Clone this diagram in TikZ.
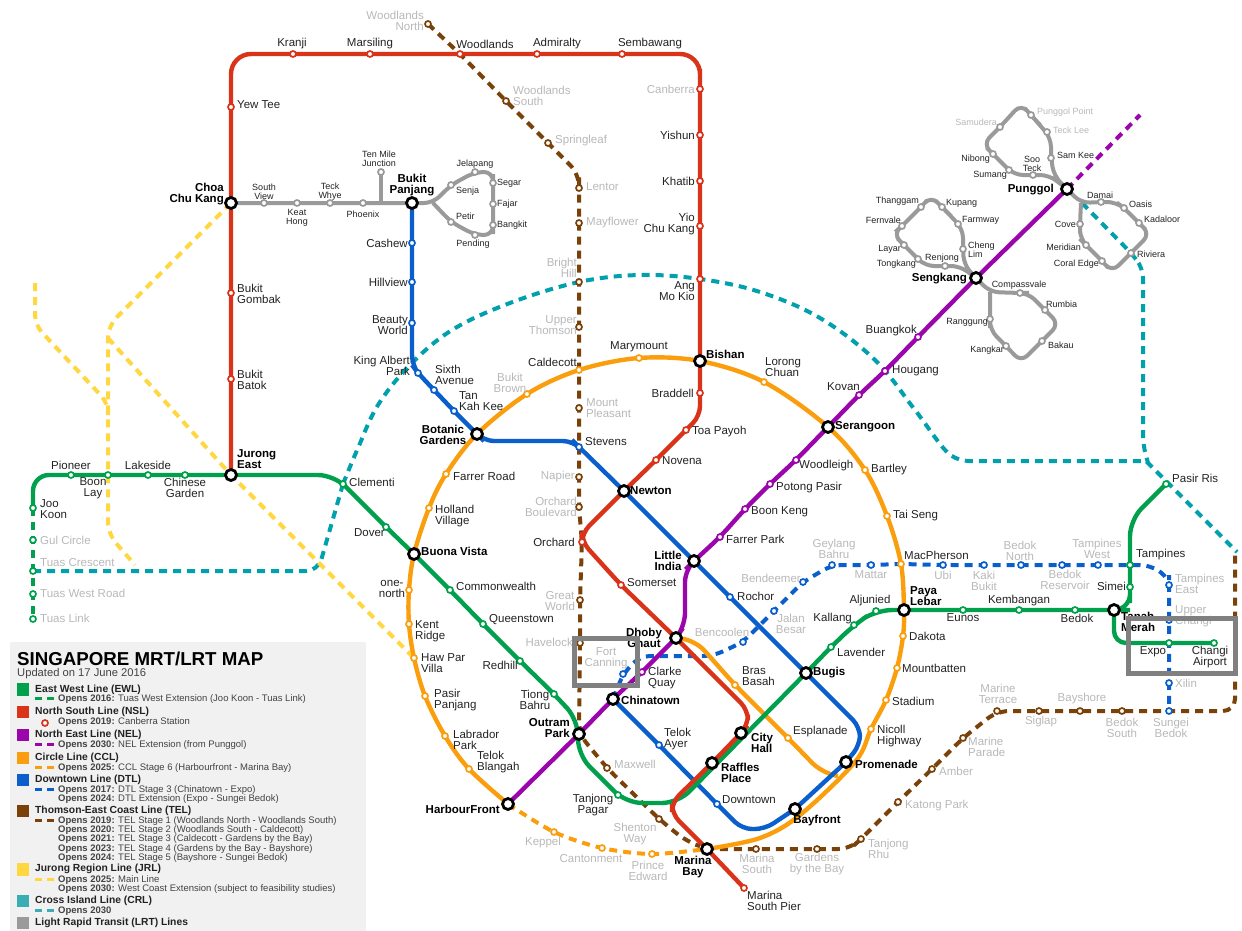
\documentclass[tikz,border=0pt]{standalone}
\usepackage{fontspec}
\setmainfont{Liberation Sans}
\definecolor{ewl}{HTML}{00A04C}
\definecolor{nsl}{HTML}{D9331A}
\definecolor{nel}{HTML}{9B05AC}
\definecolor{ccl}{HTML}{FA9E0D}
\definecolor{dtl}{HTML}{0A5FCC}
\definecolor{tel}{HTML}{7A4208}
\definecolor{jrl}{HTML}{FFD740}
\definecolor{crl}{HTML}{00A0AC}
\definecolor{crlk}{HTML}{3AADB5}
\definecolor{lrt}{HTML}{9A9A9A}
\definecolor{txt}{HTML}{222222}
\definecolor{fadet}{HTML}{B8B8B8}
\definecolor{panel}{HTML}{F1F1F1}
\definecolor{framec}{HTML}{808080}
\pgfdeclarelayer{lines}
\pgfsetlayers{lines,main}
\tikzset{
  st/.style={circle,draw=#1,fill=white,line width=1.7pt,minimum size=6pt,inner sep=0pt},
  ic/.style={circle,draw=black,fill=white,line width=2.8pt,minimum size=11pt,inner sep=0pt},
  lab/.style={inner sep=0pt,text=txt,font=\fontsize{11.5}{11.2}\selectfont},
  lw/.style={anchor=west,align=left},
  le/.style={anchor=east,align=right},
  lc/.style={anchor=center,align=center},
  gy/.style={text=fadet},
  bd/.style={text=black,font=\fontsize{11.5}{11.2}\selectfont\bfseries},
  sm/.style={text=txt,font=\fontsize{9}{9}\selectfont},
  ln/.style={draw=#1,line width=4.4pt},
  fut/.style={draw=#1,line width=4pt,dash pattern=on 8pt off 6pt},
  lrtl/.style={draw=lrt,line width=4pt,rounded corners=9pt},
  frameb/.style={rectangle,draw=framec,line width=5pt,inner sep=0pt},
  lgk/.style={rectangle,fill=#1,inner sep=0pt,minimum width=12pt,minimum height=12.5pt},
  lgd/.style={rectangle,fill=#1,inner sep=0pt,minimum width=7pt,minimum height=3pt},
  lgh/.style={inner sep=0pt,anchor=west,text=txt,font=\fontsize{10.3}{11}\selectfont\bfseries},
  lgs/.style={inner sep=0pt,anchor=west,text=txt!85,font=\fontsize{9.5}{10}\selectfont},
}
\newcommand\stn[6]{\node[st=#2] (#1) at (#3) {};\node[lab,#4] (#1T) at (#5) {#6};}
\newcommand\ixn[5]{\node[ic] (#1) at (#2) {};\node[lab,bd,#3] (#1T) at (#4) {#5};}
\newcounter{lgc}
\newcommand\lgo[3]{\stepcounter{lgc}\node[#1] (lg\arabic{lgc}) at (#2) {#3};}
\newcommand\lgdash[2]{\lgo{lgd=#2}{38.5,#1}{}\lgo{lgd=#2}{50.5,#1}{}}
\newcommand\op[1]{\textbf{Opens #1:} }
\begin{document}
\begin{tikzpicture}[x=1pt,y=-1pt]
\useasboundingbox (0,0) rectangle (1242,931);
% ---------- way points
\coordinate (c1) at (231,54);\coordinate (c2) at (700,54);\coordinate (c3) at (700,416);
\coordinate (c4) at (582,533);\coordinate (c5) at (748,710);\coordinate (c6) at (748,725);
\coordinate (c7) at (672,802);\coordinate (c8) at (672,814);
\coordinate (g1) at (33,475);\coordinate (g2) at (334,475);\coordinate (g3) at (578,720);
\coordinate (g4) at (578,755);\coordinate (g5) at (626,803);\coordinate (g6) at (678,803);
\coordinate (g7) at (876,610);\coordinate (g8) at (1130,610);\coordinate (g9) at (1130,520);
\coordinate (g10) at (1114,643);
\coordinate (p1) at (685,570);\coordinate (p2) at (685,625);\coordinate (pend) at (1140,115);
\coordinate (o1) at (855,762);\coordinate (o2) at (800,815);\coordinate (o3) at (760,838);
\coordinate (o4) at (695,640);\coordinate (o5) at (822,773);\coordinate (o6) at (838,776);
\coordinate (b1) at (412,365);\coordinate (b2) at (484,441);\coordinate (b3) at (573,441);
\coordinate (b4) at (860,727);\coordinate (b5) at (860,745);\coordinate (b6) at (742,829);\coordinate (b7) at (765,829);
\coordinate (d1) at (640,656);\coordinate (d2) at (713,656);\coordinate (d3) at (1150,565);\coordinate (d4) at (1169,578);
\coordinate (t1) at (579,174);\coordinate (t2) at (686,841);\coordinate (t3) at (850,849);\coordinate (t4) at (1235,711);\coordinate (t5) at (1235,555);
\coordinate (j1) at (108,326);\coordinate (j2) at (108,534);\coordinate (j3) at (135,565);
\coordinate (j4) at (35,283);\coordinate (j5) at (35,325);\coordinate (j6) at (108,403);\coordinate (j7) at (108,415);\coordinate (j8) at (108,338);
\coordinate (x1) at (318,571);\coordinate (x2) at (358,448);\coordinate (x3) at (378,405);\coordinate (x4) at (410,365);
\coordinate (x5) at (452,330);\coordinate (x6) at (510,303);\coordinate (x7) at (640,275);\coordinate (x8) at (760,292);
\coordinate (x9) at (820,318);\coordinate (x10) at (875,360);\coordinate (x11) at (915,410);\coordinate (x12) at (948,453);
\coordinate (x13) at (970,461);\coordinate (x14) at (1146,461);\coordinate (x15) at (1237,552);
\coordinate (y1) at (1082,203);\coordinate (y2) at (1143,268);\coordinate (y3) at (1143,445);\coordinate (y4) at (1148,463);
\coordinate (l1) at (433,203);\coordinate (l2) at (493,172);\coordinate (l3) at (493,235);\coordinate (l4) at (381,203);
\coordinate (m1) at (1054,176);\coordinate (m2) at (1051,138);\coordinate (m3) at (1021,104);\coordinate (m4) at (983,144);\coordinate (m5) at (1014,175);\coordinate (m6) at (1049,175);
\coordinate (n1) at (1081,203);\coordinate (n2) at (1116,202);\coordinate (n3) at (1150,234);\coordinate (n4) at (1112,272);\coordinate (n5) at (1080,239);
\coordinate (q1) at (964,265);\coordinate (q2) at (963,229);\coordinate (q3) at (931,196);\coordinate (q4) at (893,234);\coordinate (q5) at (925,266);\coordinate (q6) at (960,266);
\coordinate (r1) at (990,292);\coordinate (r2) at (1028,293);\coordinate (r3) at (1059,324);\coordinate (r4) at (1021,362);\coordinate (r5) at (990,330);
% ---------- EWL stations
\stn{jookoon}{ewl}{33,508}{lw}{40,509}{Joo\\Koon}
\stn{gul}{ewl}{33,540}{lw,gy}{40,540}{Gul Circle}
\stn{tuascr}{ewl}{33,571}{lw,gy}{40,563}{Tuas Crescent}
\stn{tuaswr}{ewl}{33,594}{lw,gy}{40,593}{Tuas West Road}
\stn{tuasl}{ewl}{33,619}{lw,gy}{40,618}{Tuas Link}
\stn{pioneer}{ewl}{71,475}{lc}{71,465}{Pioneer}
\stn{boonlay}{ewl}{108,475}{lc}{93,488}{Boon\\Lay}
\stn{lakeside}{ewl}{148,475}{lc}{148,465}{Lakeside}
\stn{chinese}{ewl}{185,475}{lc}{185,488}{Chinese\\Garden}
\stn{clementi}{ewl}{343,484}{lw}{349,482}{Clementi}
\stn{dover}{ewl}{386,527}{le}{385,533}{Dover}
\stn{common}{ewl}{450,590}{lw}{456,586}{Commonwealth}
\stn{queens}{ewl}{483,624}{lw}{489,620}{Queenstown}
\stn{redhill}{ewl}{520,661}{le}{518,665}{Redhill}
\stn{tiong}{ewl}{554,694}{lc}{535,700}{Tiong\\Bahru}
\stn{tanjong}{ewl}{618,795}{lc}{593,805}{Tanjong\\Pagar}
\stn{lavender}{ewl}{831,647}{lw}{837,652}{Lavender}
\stn{kallang}{ewl}{854,625}{le}{852,619}{Kallang}
\stn{aljunied}{ewl}{876,611}{lc}{870,601}{Aljunied}
\stn{eunos}{ewl}{963,610}{lc}{963,618}{Eunos}
\stn{kembangan}{ewl}{1019,610}{lc}{1019,601}{Kembangan}
\stn{bedok}{ewl}{1075,610}{lc}{1077,618}{Bedok}
\stn{simei}{ewl}{1130,587}{le}{1126,586}{Simei}
\stn{tampines}{ewl}{1130,565}{lw}{1136,555}{Tampines}
\stn{pasir}{ewl}{1166,484}{lw}{1172,478}{Pasir Ris}
\stn{expo}{ewl}{1169,643}{lc}{1153,652}{Expo}
\stn{changi}{ewl}{1214,643}{lc}{1210,657}{Changi\\Airport}
% ---------- NSL stations
\stn{yewtee}{nsl}{231,107}{lw}{237,105}{Yew Tee}
\stn{gombak}{nsl}{231,293}{lw}{237,294}{Bukit\\Gombak}
\stn{batok}{nsl}{231,379}{lw}{237,380}{Bukit\\Batok}
\stn{kranji}{nsl}{293,54}{lc}{292,44}{Kranji}
\stn{marsiling}{nsl}{370,54}{lc}{370,44}{Marsiling}
\stn{woodlands}{nsl}{460,54}{lc}{485,44}{Woodlands}
\stn{admiralty}{nsl}{537,54}{lc}{557,44}{Admiralty}
\stn{sembawang}{nsl}{622,54}{lc}{650,44}{Sembawang}
\stn{canberra}{nsl}{700,89}{le,gy}{695,89}{Canberra}
\stn{yishun}{nsl}{700,135}{le}{695,135}{Yishun}
\stn{khatib}{nsl}{700,181}{le}{695,181}{Khatib}
\stn{yio}{nsl}{700,226}{le}{695,224}{Yio\\Chu Kang}
\stn{ang}{nsl}{700,279}{le}{695,291}{Ang\\Mo Kio}
\stn{braddell}{nsl}{700,393}{le}{694,393}{Braddell}
\stn{toa}{nsl}{686,430}{lw}{692,432}{Toa Payoh}
\stn{novena}{nsl}{656,460}{lw}{662,461}{Novena}
\stn{orchard}{nsl}{582,542}{le}{575,542}{Orchard}
\stn{somerset}{nsl}{621,585}{lw}{627,583}{Somerset}
\stn{pier}{nsl}{744,888}{lw}{747,901}{Marina\\South Pier}
% ---------- NEL stations
\stn{clarke}{nel}{642,672}{lw}{648,678}{Clarke\\Quay}
\stn{farrerp}{nel}{720,537}{lw}{726,539}{Farrer Park}
\stn{boonkeng}{nel}{745,509}{lw}{751,512}{Boon Keng}
\stn{potong}{nel}{770,484}{lw}{776,488}{Potong Pasir}
\stn{woodleigh}{nel}{796,460}{lw}{799,466}{Woodleigh}
\stn{kovan}{nel}{859,395}{le}{860,387}{Kovan}
\stn{hougang}{nel}{885,371}{lw}{892,371}{Hougang}
\stn{buangkok}{nel}{918,337}{le}{917,331}{Buangkok}
% ---------- CCL stations
\stn{caldecott}{ccl}{579,370}{le}{577,362}{Caldecott}
\stn{bbrown}{ccl}{527,394}{lc,gy}{510,383}{Bukit\\Brown}
\stn{farrerr}{ccl}{446,474}{lw}{453,476}{Farrer Road}
\stn{holland}{ccl}{429,508}{lw}{435,516}{Holland\\Village}
\stn{onenorth}{ccl}{409,590}{lc}{392,589}{one-\\north}
\stn{kent}{ccl}{409,624}{lw}{415,631}{Kent\\Ridge}
\stn{hawpar}{ccl}{414,658}{lw}{421,663}{Haw Par\\Villa}
\stn{pasirp}{ccl}{425,696}{lw}{434,700}{Pasir\\Panjang}
\stn{labrador}{ccl}{445,736}{lw}{453,740}{Labrador\\Park}
\stn{blangah}{ccl}{469,769}{lw}{477,762}{Telok\\Blangah}
\stn{keppel}{ccl}{554,832}{lc,gy}{543,843}{Keppel}
\stn{canton}{ccl}{602,848}{lc,gy}{591,859}{Cantonment}
\stn{prince}{ccl}{652,854}{lc,gy}{648,871}{Prince\\Edward}
\stn{marymount}{ccl}{639,358}{lc}{639,347}{Marymount}
\stn{lorong}{ccl}{764,382}{lw}{765,367}{Lorong\\Chuan}
\stn{bartley}{ccl}{865,470}{lw}{871,470}{Bartley}
\stn{taiseng}{ccl}{887,516}{lw}{893,516}{Tai Seng}
\stn{macph}{ccl}{901,564}{lw}{904,555}{MacPherson}
\stn{dakota}{ccl}{903,636}{lw}{909,636}{Dakota}
\stn{mountb}{ccl}{897,668}{lw}{902,668}{Mountbatten}
\stn{stadium}{ccl}{886,700}{lw}{892,701}{Stadium}
\stn{nicoll}{ccl}{871,729}{lw}{877,736}{Nicoll\\Highway}
\stn{esplanade}{ccl}{788,738}{lw}{793,732}{Esplanade}
\stn{bras}{ccl}{735,685}{lw}{742,676}{Bras\\Basah}
% ---------- DTL stations
\stn{cashew}{dtl}{412,243}{le}{408,243}{Cashew}
\stn{hillview}{dtl}{412,282}{le}{408,282}{Hillview}
\stn{beauty}{dtl}{412,323}{le}{408,325}{Beauty\\World}
\stn{albert}{dtl}{418,373}{le}{410,366}{King Albert\\Park}
\stn{sixth}{dtl}{434,390}{lw}{435,375}{Sixth\\Avenue}
\stn{tankah}{dtl}{454,411}{lw}{459,401}{Tan\\Kah Kee}
\stn{stevens}{dtl}{579,447}{lw}{585,442}{Stevens}
\stn{rochor}{dtl}{730,597}{lw}{737,596}{Rochor}
\stn{telokayer}{dtl}{659,745}{lw}{664,739}{Telok\\Ayer}
\stn{downtown}{dtl}{717,804}{lw}{722,800}{Downtown}
\stn{fortc}{dtl}{623,674}{lc,gy}{606,658}{Fort\\Canning}
\stn{bencoolen}{dtl}{743,642}{lc,gy}{722,632}{Bencoolen}
\stn{jalan}{dtl}{774,611}{lc,gy}{791,624}{Jalan\\Besar}
\stn{bendeemer}{dtl}{803,582}{le,gy}{801,578}{Bendeemer}
\stn{geylang}{dtl}{832,565}{lc,gy}{834,549}{Geylang\\Bahru}
\stn{mattar}{dtl}{871,565}{lc,gy}{871,575}{Mattar}
\stn{ubi}{dtl}{943,565}{lc,gy}{943,575}{Ubi}
\stn{kaki}{dtl}{984,565}{lc,gy}{984,581}{Kaki\\Bukit}
\stn{bedokn}{dtl}{1021,565}{lc,gy}{1020,551}{Bedok\\North}
\stn{bedokr}{dtl}{1062,565}{lc,gy}{1065,580}{Bedok\\Reservoir}
\stn{tampw}{dtl}{1098,565}{lc,gy}{1097,549}{Tampines\\West}
\stn{tampe}{dtl}{1169,585}{lw,gy}{1175,584}{Tampines\\East}
\stn{upperc}{dtl}{1169,620}{lw,gy}{1175,616}{Upper\\Changi}
\stn{xilin}{dtl}{1169,683}{lw,gy}{1175,683}{Xilin}
\stn{sungei}{dtl}{1169,711}{lc,gy}{1171,728}{Sungei\\Bedok}
% ---------- TEL stations
\stn{wnorth}{tel}{428,24}{le,gy}{424,21}{Woodlands\\North}
\stn{wsouth}{tel}{506,101}{lw,gy}{513,96}{Woodlands\\South}
\stn{springleaf}{tel}{548,143}{lw,gy}{555,141}{Springleaf}
\stn{lentor}{tel}{579,188}{lw,gy}{586,187}{Lentor}
\stn{mayflower}{tel}{579,223}{lw,gy}{586,223}{Mayflower}
\stn{bright}{tel}{579,282}{le,gy}{577,268}{Bright\\Hill}
\stn{upperth}{tel}{579,327}{le,gy}{577,325}{Upper\\Thomson}
\stn{mount}{tel}{579,408}{lw,gy}{586,408}{Mount\\Pleasant}
\stn{napier}{tel}{579,477}{le,gy}{575,477}{Napier}
\stn{orchb}{tel}{579,507}{le,gy}{577,507}{Orchard\\Boulevard}
\stn{great}{tel}{580,600}{lc,gy}{560,601}{Great\\World}
\stn{havelock}{tel}{580,643}{le,gy}{573,642}{Havelock}
\stn{maxwell}{tel}{607,768}{lw,gy}{614,764}{Maxwell}
\stn{shenton}{tel}{659,819}{lc,gy}{635,834}{Shenton\\Way}
\stn{msouth}{tel}{756,849}{lc,gy}{757,864}{Marina\\South}
\stn{gardens}{tel}{817,849}{lc,gy}{817,864}{Gardens\\by the Bay}
\stn{rhu}{tel}{861,839}{lw,gy}{868,849}{Tanjong\\Rhu}
\stn{katong}{tel}{898,802}{lw,gy}{905,806}{Katong Park}
\stn{amber}{tel}{932,769}{lw,gy}{939,771}{Amber}
\stn{mparade}{tel}{963,738}{lw,gy}{968,747}{Marine\\Parade}
\stn{mterrace}{tel}{997,711}{lc,gy}{998,694}{Marine\\Terrace}
\stn{siglap}{tel}{1039,711}{lc,gy}{1041,722}{Siglap}
\stn{bayshore}{tel}{1080,711}{lc,gy}{1082,699}{Bayshore}
\stn{bedoks}{tel}{1122,711}{lc,gy}{1122,728}{Bedok\\South}
% ---------- LRT stations
\stn{southv}{lrt}{264,203}{lc,sm}{264,192}{South\\View}
\stn{keat}{lrt}{297,203}{lc,sm}{297,218}{Keat\\Hong}
\stn{teck}{lrt}{330,203}{lc,sm}{330,192}{Teck\\Whye}
\stn{phoenix}{lrt}{363,203}{lc,sm}{363,214}{Phoenix}
\stn{tenmile}{lrt}{381,172}{lc,sm}{379,159}{Ten Mile\\Junction}
\stn{senja}{lrt}{451,185}{lw,sm}{456,191}{Senja}
\stn{jelapang}{lrt}{475,172}{lc,sm}{475,164}{Jelapang}
\stn{segar}{lrt}{493,183}{lw,sm}{497,183}{Segar}
\stn{fajar}{lrt}{493,204}{lw,sm}{497,204}{Fajar}
\stn{bangkit}{lrt}{493,225}{lw,sm}{497,225}{Bangkit}
\stn{pending}{lrt}{475,235}{lc,sm}{473,244}{Pending}
\stn{petir}{lrt}{451,222}{lw,sm}{456,216}{Petir}
\stn{samkee}{lrt}{1051,158}{lw,sm}{1057,155}{Sam Kee}
\stn{tecklee}{lrt}{1047,132}{lw,sm,gy}{1053,130}{Teck Lee}
\stn{ppoint}{lrt}{1031,115}{lw,sm,gy}{1037,112}{Punggol Point}
\stn{samudera}{lrt}{1000,127}{le,sm,gy}{997,122}{Samudera}
\stn{nibong}{lrt}{993,154}{le,sm}{990,159}{Nibong}
\stn{sumang}{lrt}{1009,170}{le,sm}{1007,175}{Sumang}
\stn{sooteck}{lrt}{1033,175}{lc,sm}{1032,164}{Soo\\Teck}
\stn{damai}{lrt}{1101,202}{lc,sm}{1100,195}{Damai}
\stn{oasis}{lrt}{1124,208}{lw,sm}{1129,204}{Oasis}
\stn{kadaloor}{lrt}{1139,223}{lw,sm}{1144,219}{Kadaloor}
\stn{riviera}{lrt}{1131,253}{lw,sm}{1137,254}{Riviera}
\stn{coral}{lrt}{1102,261}{le,sm}{1099,264}{Coral Edge}
\stn{meridian}{lrt}{1086,245}{le,sm}{1081,247}{Meridian}
\stn{cove}{lrt}{1080,224}{le,sm}{1076,224}{Cove}
\stn{chenglim}{lrt}{963,249}{lw,sm}{968,250}{Cheng\\Lim}
\stn{farmway}{lrt}{958,224}{lw,sm}{962,220}{Farmway}
\stn{kupang}{lrt}{942,207}{lw,sm}{946,203}{Kupang}
\stn{thanggam}{lrt}{921,207}{le,sm}{919,201}{Thanggam}
\stn{fernvale}{lrt}{902,226}{le,sm}{901,220}{Fernvale}
\stn{layar}{lrt}{904,245}{le,sm}{901,249}{Layar}
\stn{tongkang}{lrt}{918,259}{le,sm}{916,264}{Tongkang}
\stn{renjong}{lrt}{945,266}{lc,sm}{942,258}{Renjong}
\stn{compass}{lrt}{1020,293}{lc,sm}{1019,285}{Compassvale}
\stn{rumbia}{lrt}{1045,310}{lw,sm}{1046,304}{Rumbia}
\stn{bakau}{lrt}{1042,341}{lw,sm}{1048,345}{Bakau}
\stn{kangkar}{lrt}{1006,346}{le,sm}{1004,350}{Kangkar}
\stn{ranggung}{lrt}{990,319}{le,sm}{988,322}{Ranggung}
% ---------- interchanges
\ixn{jurong}{231,475}{lw}{237,459}{Jurong\\East}
\ixn{cck}{231,203}{le}{224,194}{Choa\\Chu Kang}
\ixn{bukitp}{412,203}{lc}{412,185}{Bukit\\Panjang}
\ixn{buona}{414,554}{lw}{421,551}{Buona Vista}
\ixn{botanic}{477,434}{lc}{443,435}{Botanic\\Gardens}
\ixn{newton}{624,491}{lw}{630,491}{Newton}
\ixn{bishan}{700,361}{lw}{706,354}{Bishan}
\ixn{serangoon}{828,427}{lw}{835,427}{Serangoon}
\ixn{littleindia}{694,561}{lc}{668,561}{Little\\India}
\ixn{dhoby}{676,638}{lc}{644,638}{Dhoby\\Ghaut}
\ixn{chinatown}{613,699}{lw}{621,700}{Chinatown}
\ixn{outram}{579,734}{le}{570,728}{Outram\\Park}
\ixn{harbour}{508,804}{le}{500,809}{HarbourFront}
\ixn{cityhall}{741,733}{lw}{751,743}{City\\Hall}
\ixn{raffles}{712,763}{lw}{721,773}{Raffles\\Place}
\ixn{marina}{707,849}{lc}{693,867}{Marina\\Bay}
\ixn{bayfront}{795,809}{lc}{817,821}{Bayfront}
\ixn{promenade}{846,762}{lw}{855,764}{Promenade}
\ixn{bugis}{806,673}{lw}{813,673}{Bugis}
\ixn{paya}{904,610}{lw}{910,596}{Paya\\Lebar}
\ixn{tanah}{1114,610}{lw}{1121,622}{Tanah\\Merah}
\ixn{sengkang}{976,278}{le}{967,279}{Sengkang}
\ixn{punggol}{1067,189}{le}{1054,190}{Punggol}
% ---------- lines (beneath the stations)
\begin{pgfonlayer}{lines}
% future lines
\draw[fut=crl,rounded corners=12pt] (tuascr.center) -- (x1) -- (clementi.center);
\draw[fut=crl] plot[smooth,tension=0.6] coordinates {(clementi.center) (x2) (x3) (x4) (x5) (x6) (bright.center) (x7) (ang.center) (x8) (x9) (x10) (x11) (x12) (x13)} -- (x14) -- (x15);
\draw[fut=crl,rounded corners=10pt] (y1) -- (riviera.center) -- (y2) -- (y3) -- (y4);
\draw[fut=jrl,rounded corners=12pt] (cck.center) -- (j1) -- (j2) -- (j3);
\draw[fut=jrl,rounded corners=10pt] (j4) -- (j5) -- (j6) -- (j7);
\draw[fut=jrl] (j8) -- (jurong.center) -- (hawpar.center);
\draw[fut=tel,rounded corners=12pt] (wnorth.center) -- (woodlands.center) -- (wsouth.center) -- (springleaf.center) -- (t1) -- (lentor.center) -- (mayflower.center) -- (bright.center) -- (upperth.center) -- (caldecott.center) -- (mount.center) -- (stevens.center) -- (napier.center) -- (orchb.center) -- (orchard.center) -- (great.center) -- (havelock.center) -- (outram.center) -- (maxwell.center) -- (shenton.center) -- (t2) -- (marina.center) -- (msouth.center) -- (gardens.center) -- (t3) -- (rhu.center) -- (katong.center) -- (amber.center) -- (mparade.center) -- (mterrace.center) -- (siglap.center) -- (bayshore.center) -- (bedoks.center) -- (sungei.center) -- (t4) -- (t5);
\draw[fut=dtl,rounded corners=10pt] (chinatown.center) -- (fortc.center) -- (d1) -- (d2) -- (bencoolen.center) -- (jalan.center) -- (bendeemer.center) -- (geylang.center) -- (mattar.center) -- (macph.center) -- (ubi.center) -- (kaki.center) -- (bedokn.center) -- (bedokr.center) -- (tampw.center) -- (tampines.center) -- (d3) -- (d4) -- (tampe.center) -- (upperc.center) -- (expo.center) -- (xilin.center) -- (sungei.center);
\draw[fut=ewl] (jookoon.center) -- (gul.center) -- (tuascr.center) -- (tuaswr.center) -- (tuasl.center);
\draw[fut=nel] (punggol.center) -- (pend);
\draw[fut=ccl] plot[smooth,tension=0.5] coordinates {(harbour.center) (keppel.center) (canton.center) (prince.center) (marina.center)};
% LRT
\draw[lrtl] (cck.center) -- (southv.center) -- (keat.center) -- (teck.center) -- (phoenix.center) -- (l4) -- (bukitp.center) -- (l1) -- (senja.center) -- (jelapang.center) -- (l2) -- (segar.center) -- (fajar.center) -- (bangkit.center) -- (l3) -- (pending.center) -- (petir.center) -- (l1);
\draw[lrtl] (l4) -- (tenmile.center);
\draw[lrtl] (punggol.center) -- (m1) -- (samkee.center) -- (m2) -- (ppoint.center) -- (m3) -- (samudera.center) -- (m4) -- (nibong.center) -- (m5) -- (sooteck.center) -- (m6) -- (punggol.center);
\draw[lrtl] (punggol.center) -- (n1) -- (damai.center) -- (n2) -- (oasis.center) -- (kadaloor.center) -- (n3) -- (riviera.center) -- (n4) -- (coral.center) -- (meridian.center) -- (n5) -- (cove.center) -- (n1);
\draw[lrtl] (sengkang.center) -- (q1) -- (chenglim.center) -- (q2) -- (kupang.center) -- (q3) -- (thanggam.center) -- (fernvale.center) -- (q4) -- (layar.center) -- (q5) -- (renjong.center) -- (q6) -- (sengkang.center);
\draw[lrtl] (sengkang.center) -- (r1) -- (compass.center) -- (r2) -- (rumbia.center) -- (r3) -- (bakau.center) -- (r4) -- (kangkar.center) -- (r5) -- (ranggung.center) -- (r1);
% solid lines
\draw[ln=ccl] plot[smooth,tension=0.55] coordinates {(harbour.center) (blangah.center) (labrador.center) (pasirp.center) (hawpar.center) (kent.center) (onenorth.center) (buona.center) (holland.center) (farrerr.center) (botanic.center) (bbrown.center) (caldecott.center) (marymount.center) (bishan.center) (lorong.center) (serangoon.center) (bartley.center) (taiseng.center) (macph.center) (paya.center) (dakota.center) (mountb.center) (stadium.center) (nicoll.center) (o1) (o2) (o3) (marina.center)};
\draw[ln=ccl,rounded corners=14pt] (dhoby.center) -- (o4) -- (bras.center) -- (esplanade.center) -- (o5) -- (o6);
\draw[ln=dtl,rounded corners=10pt] (bukitp.center) -- (cashew.center) -- (hillview.center) -- (beauty.center) -- (b1) -- (albert.center) -- (sixth.center) -- (tankah.center) -- (botanic.center) -- (b2) -- (b3) -- (stevens.center) -- (newton.center) -- (littleindia.center) -- (rochor.center) -- (bugis.center) -- (b4) -- (b5) -- (promenade.center) -- (bayfront.center) -- (b7) -- (b6) -- (downtown.center) -- (telokayer.center) -- (chinatown.center);
\draw[ln=ewl,rounded corners=16pt] (jookoon.center) -- (g1) -- (pioneer.center) -- (boonlay.center) -- (lakeside.center) -- (chinese.center) -- (jurong.center) -- (g2) -- (dover.center) -- (buona.center) -- (common.center) -- (queens.center) -- (redhill.center) -- (tiong.center) -- (g3) -- (g4) -- (g5) -- (g6) -- (bugis.center) -- (lavender.center) -- (kallang.center) -- (g7) -- (paya.center) -- (eunos.center) -- (kembangan.center) -- (bedok.center) -- (tanah.center) -- (g8) -- (simei.center) -- (tampines.center) -- (g9) -- (pasir.center);
\draw[ln=ewl,rounded corners=12pt] (tanah.center) -- (g10) -- (expo.center) -- (changi.center);
\draw[ln=nsl,rounded corners=20pt] (jurong.center) -- (batok.center) -- (gombak.center) -- (cck.center) -- (yewtee.center) -- (c1) -- (kranji.center) -- (marsiling.center) -- (woodlands.center) -- (admiralty.center) -- (sembawang.center) -- (c2) -- (canberra.center) -- (yishun.center) -- (khatib.center) -- (yio.center) -- (ang.center) -- (bishan.center) -- (braddell.center);
\draw[ln=nsl,rounded corners=10pt] (braddell.center) -- (c3) -- (toa.center) -- (novena.center) -- (newton.center) -- (c4) -- (orchard.center) -- (somerset.center) -- (dhoby.center) -- (c5) -- (c6) -- (cityhall.center) -- (raffles.center) -- (c7) -- (c8) -- (marina.center) -- (pier.center);
\draw[ln=nel,rounded corners=12pt] (harbour.center) -- (outram.center) -- (chinatown.center) -- (clarke.center) -- (dhoby.center) -- (p2) -- (p1) -- (littleindia.center) -- (farrerp.center) -- (boonkeng.center) -- (potong.center) -- (woodleigh.center) -- (serangoon.center) -- (kovan.center) -- (hougang.center) -- (buangkok.center) -- (sengkang.center) -- (punggol.center);
\end{pgfonlayer}
% ---------- legend
\node[rectangle,fill=panel,inner sep=0pt,anchor=north west,minimum width=356pt,minimum height=289pt] (panelbox) at (10,642) {};
\lgo{inner sep=0pt,anchor=west,text=black,font=\fontsize{18.7}{20}\selectfont\bfseries}{17,659}{SINGAPORE MRT/LRT MAP}
\lgo{inner sep=0pt,anchor=west,text=txt!85,font=\fontsize{11.2}{12}\selectfont}{17,673.5}{Updated on 17 June 2016}
\lgo{lgk=ewl}{23.3,689.5}{}\lgo{lgh}{35,689.5}{East West Line (EWL)}\lgdash{698.5}{ewl}
\lgo{lgs}{58,699.5}{\op{2016}Tuas West Extension (Joo Koon - Tuas Link)}
\lgo{lgk=nsl}{23.3,712}{}\lgo{lgh}{35,712}{North South Line (NSL)}
\lgo{st=nsl}{45,723}{}\lgo{lgs}{58,722.5}{\op{2019}Canberra Station}
\lgo{lgk=nel}{23.3,735}{}\lgo{lgh}{35,735}{North East Line (NEL)}\lgdash{744.5}{nel}
\lgo{lgs}{58,745}{\op{2030}NEL Extension (from Punggol)}
\lgo{lgk=ccl}{23.3,758}{}\lgo{lgh}{35,758}{Circle Line (CCL)}\lgdash{767}{ccl}
\lgo{lgs}{58,768}{\op{2025}CCL Stage 6 (Harbourfront - Marina Bay)}
\lgo{lgk=dtl}{23.3,780}{}\lgo{lgh}{35,780}{Downtown Line (DTL)}\lgdash{789}{dtl}
\lgo{lgs}{58,790}{\op{2017}DTL Stage 3 (Chinatown - Expo)}
\lgo{lgs}{58,799}{\op{2024}DTL Extension (Expo - Sungei Bedok)}
\lgo{lgk=tel}{23.3,811}{}\lgo{lgh}{35,810.5}{Thomson-East Coast Line (TEL)}\lgdash{820}{tel}
\lgo{lgs}{58,821}{\op{2019}TEL Stage 1 (Woodlands North - Woodlands South)}
\lgo{lgs}{58,830}{\op{2020}TEL Stage 2 (Woodlands South - Caldecott)}
\lgo{lgs}{58,839.5}{\op{2021}TEL Stage 3 (Caldecott - Gardens by the Bay)}
\lgo{lgs}{58,849}{\op{2023}TEL Stage 4 (Gardens by the Bay - Bayshore)}
\lgo{lgs}{58,858}{\op{2024}TEL Stage 5 (Bayshore - Sungei Bedok)}
\lgo{lgk=jrl}{23.3,869.5}{}\lgo{lgh}{35,869}{Jurong Region Line (JRL)}\lgdash{879}{jrl}
\lgo{lgs}{58,880}{\op{2025}Main Line}
\lgo{lgs}{58,889}{\op{2030}West Coast Extension (subject to feasibility studies)}
\lgo{lgk=crlk}{23.3,901}{}\lgo{lgh}{35,901}{Cross Island Line (CRL)}\lgdash{910.5}{crlk}
\lgo{lgs}{58,911}{\textbf{Opens 2030}}
\lgo{lgk=lrt}{23.3,923}{}\lgo{lgh}{35,922.5}{Light Rapid Transit (LRT) Lines}
% ---------- highlight frames
\node[frameb,minimum width=63pt,minimum height=47pt] (frameA) at (606,662) {};
\node[frameb,minimum width=107pt,minimum height=55pt] (frameB) at (1181.5,645.5) {};
\end{tikzpicture}
\end{document}
